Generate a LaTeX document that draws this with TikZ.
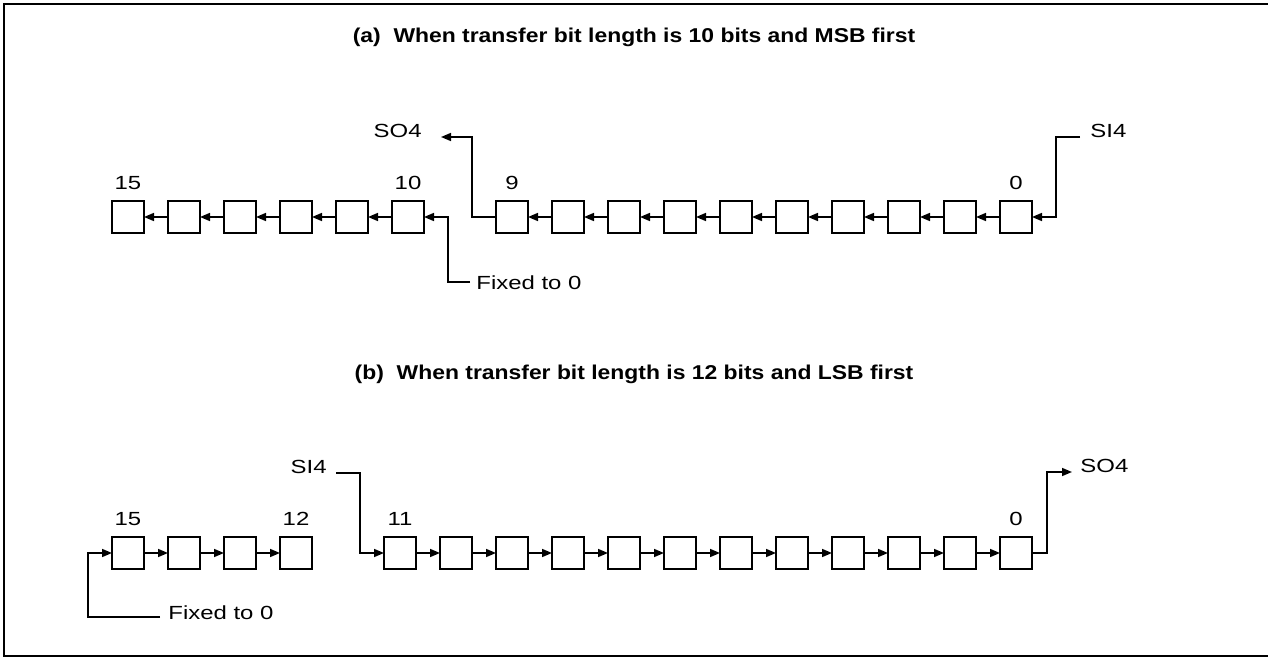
\documentclass[tikz,border=0pt]{standalone}
\usepackage{fontspec}
\setmainfont{Liberation Sans}[FakeStretch=1.26]
\newfontfamily\titlefont{Liberation Sans}[FakeStretch=1.145]
\usetikzlibrary{arrows.meta,positioning}
\tikzset{
  bitbox/.style={
    draw,
    line width=.75pt,
    minimum size=16pt,
    inner sep=0pt,
    outer sep=0pt
  },
  num/.style={
    anchor=base,
    inner sep=0pt,
    font=\fontsize{9.5}{11}\selectfont
  },
  pin/.style={
    inner sep=0pt,
    font=\fontsize{9.5}{11}\selectfont
  },
  titulo/.style={
    anchor=base,
    inner sep=0pt,
    font=\titlefont\fontsize{10}{12}\selectfont\bfseries
  },
  arrow/.style={
    -{Triangle[length=5pt,width=4pt]},
    line width=.8pt
  }
}

\begin{document}
\begin{tikzpicture}[x=.5pt,y=-.5pt]
\useasboundingbox (0,0) rectangle (1268,658);
\draw[line width=1pt] (1268,4) -- (4,4) -- (4,656) -- (1268,656);

% (a) 10 bits, MSB first
\node[titulo] (ta) at (634,43) {(a)\ \ When transfer bit length is 10 bits and MSB first};
\foreach \i in {15,...,10} \node[bitbox] (a\i) at ({128+56*(15-\i)},217) {};
\foreach \i in {9,...,0} \node[bitbox] (a\i) at ({1016-56*\i},217) {};
\foreach \i in {10,...,14}{\pgfmathtruncatemacro\j{\i+1}\draw[arrow] (a\i.west) -- (a\j.east);}
\foreach \i in {0,...,8}{\pgfmathtruncatemacro\j{\i+1}\draw[arrow] (a\i.west) -- (a\j.east);}
\foreach \i in {15,10,9,0} \node[num] at ([yshift=6pt]a\i.north) {\i};
\coordinate (soa) at (441,137);
\node[pin, anchor=base east] (SOa) at (422,137) {SO4};
\draw[arrow] (a9.west) -- ++(-24,0) |- (soa);
\coordinate (sia) at (1080,137);
\node[pin, anchor=base west] (SIa) at (1090,137) {SI4};
\draw[arrow] (sia) -- ++(-24,0) |- (a0.east);
\coordinate (fxa) at (470,282);
\node[pin, anchor=west] (FXa) at (476,283) {Fixed to 0};
\draw[arrow] (fxa) -- ++(-22,0) |- (a10.east);

% (b) 12 bits, LSB first
\node[titulo] (tb) at (634,379) {(b)\ \ When transfer bit length is 12 bits and LSB first};
\foreach \i in {15,...,12} \node[bitbox] (b\i) at ({128+56*(15-\i)},553) {};
\foreach \i in {11,...,0} \node[bitbox] (b\i) at ({1016-56*\i},553) {};
\foreach \i in {12,...,14}{\pgfmathtruncatemacro\j{\i+1}\draw[arrow] (b\j.east) -- (b\i.west);}
\foreach \i in {0,...,10}{\pgfmathtruncatemacro\j{\i+1}\draw[arrow] (b\j.east) -- (b\i.west);}
\foreach \i in {15,12,11,0} \node[num] at ([yshift=6pt]b\i.north) {\i};
\coordinate (sib) at (336,473);
\node[pin, anchor=base east] (SIb) at (327,473) {SI4};
\draw[arrow] (sib) -- ++(24,0) |- (b11.west);
\coordinate (sob) at (1072,472);
\node[pin, anchor=base west] (SOb) at (1080,472) {SO4};
\draw[arrow] (b0.east) -- ++(15,0) |- (sob);
\coordinate (fxb) at (160,617);
\node[pin, anchor=west] (FXb) at (168,613) {Fixed to 0};
\draw[arrow] (fxb) -- ++(-72,0) |- (b15.west);
\end{tikzpicture}
\end{document}
